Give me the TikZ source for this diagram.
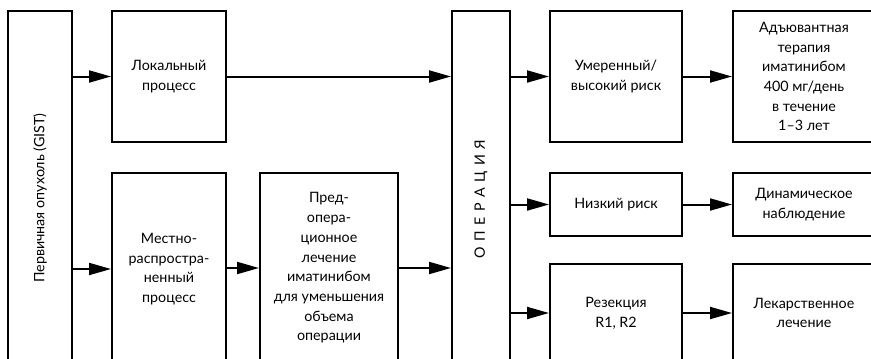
\documentclass[tikz,border=0pt]{standalone}
\usepackage{fontspec}
\setmainfont{Lato}
\usetikzlibrary{arrows.meta}
\begin{document}
\begin{tikzpicture}[x=1pt,y=-1pt,
  box/.style={draw=black, line width=2pt, fill=white, align=center,
    font=\fontsize{14.3}{19.7}\selectfont, inner sep=2pt},
  arr/.style={line width=2pt, -{Triangle[length=22pt,width=12pt]}}]
\useasboundingbox (0,0) rectangle (871,359);
\fill[white] (0,0) rectangle (871,359);
\clip (0,0) rectangle (871,359);
\node[box, minimum width=64pt, minimum height=374pt] (prim) at (40,198) {};
\node[rotate=90, font=\fontsize{14.3}{20}\selectfont] (primt) at (prim.center) {Первичная опухоль (GIST)};
\node[box, minimum width=114pt, minimum height=131pt] (lok) at (169,76.5) {Локальный\\процесс};
\node[box, minimum width=114pt, minimum height=192pt] (mest) at (169,269) {Местно-\\распростра-\\ненный\\процесс};
\node[box, minimum width=138pt, minimum height=190pt] (pre) at (329,268) {Пред-\\опера-\\ционное\\лечение\\иматинибом\\для уменьшения\\объема\\операции};
\node[box, minimum width=58pt, minimum height=376pt] (op) at (481,199) {};
\node[rotate=90, font=\fontsize{14.3}{20}\selectfont] (opt) at (op.center) {О\hspace{5.5pt}П\hspace{5.5pt}Е\hspace{5.5pt}Р\hspace{5.5pt}А\hspace{5.5pt}Ц\hspace{5.5pt}И\hspace{5.5pt}Я};
\node[box, minimum width=132pt, minimum height=131pt] (mod) at (616,76.5) {Умеренный/\\высокий риск};
\node[box, minimum width=142pt, minimum height=131pt] (adj) at (804,76.5) {Адъювантная\\терапия\\иматинибом\\400 мг/день\\в течение\\1–3 лет};
\node[box, minimum width=132pt, minimum height=63pt] (low) at (616,204.5) {Низкий риск};
\node[box, minimum width=142pt, minimum height=63pt] (dyn) at (804,204.5) {Динамическое\\наблюдение};
\node[box, minimum width=132pt, minimum height=98pt] (res) at (616,313) {Резекция\\R1, R2};
\node[box, minimum width=142pt, minimum height=98pt] (drug) at (804,313) {Лекарственное\\лечение};
\draw[arr] (prim.east |- lok.west) -- (lok.west);
\draw[arr] (prim.east |- mest.west) -- (mest.west);
\draw[arr] (mest.east |- pre.west) -- (pre.west);
\draw[arr] (pre.east) -- (op.west |- pre.east);
\draw[arr] (lok.east) -- (op.west |- lok.east);
\draw[arr] (op.east |- mod.west) -- (mod.west);
\draw[arr] (mod.east) -- (adj.west);
\draw[arr] (op.east |- low.west) -- (low.west);
\draw[arr] (low.east) -- (dyn.west);
\draw[arr] (op.east |- res.west) -- (res.west);
\draw[arr] (res.east) -- (drug.west);
\end{tikzpicture}
\end{document}
